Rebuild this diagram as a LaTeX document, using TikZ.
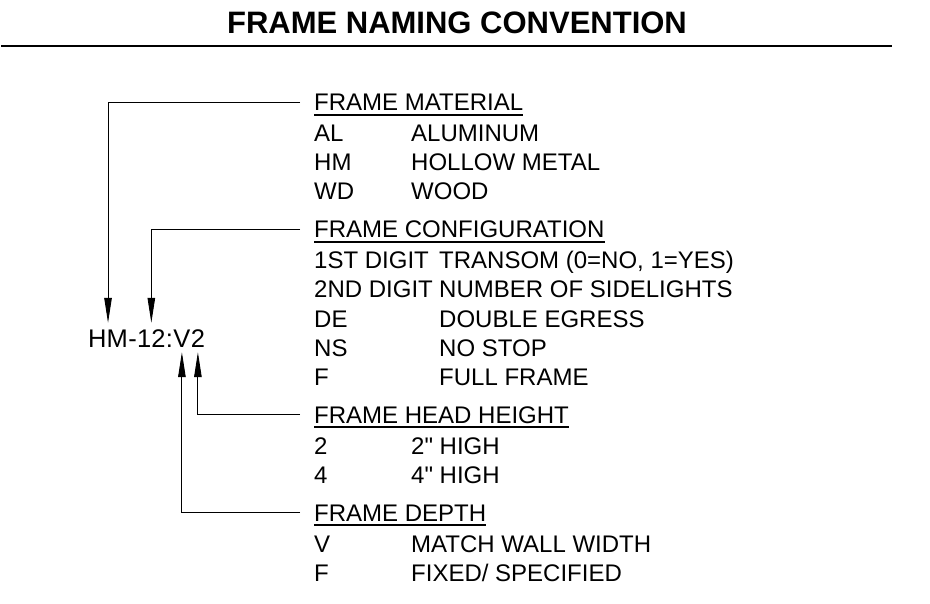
\documentclass[tikz,border=0pt]{standalone}
\usepackage{fontspec}
\setmainfont{Liberation Sans}[Ligatures=TeXOff]
\usetikzlibrary{arrows.meta,positioning}

\begin{document}
\begin{tikzpicture}[
  x=1pt,
  y=-1pt,
  font=\fontsize{24}{29}\selectfont,
  >={Triangle[length=25pt,width=7.5pt]},
  txt/.style={anchor=base west, inner sep=0pt, text height=17pt, text depth=0pt},
  hdr/.style={txt},
  part/.style={inner sep=0pt, text height=18pt, text depth=0pt, font=\fontsize{25.5}{29}\selectfont},
  leader/.style={->, line width=0.9pt},
  uline/.style={line width=2.5pt},
  titlerule/.style={line width=2.5pt}
]
  \useasboundingbox (0,0) rectangle (930,604);

  % title
  \node[anchor=base, inner sep=0pt, font=\fontsize{31}{36}\selectfont\bfseries] (title) at (457,34) {FRAME NAMING CONVENTION};
  \coordinate (ruleL) at (1,46);
  \coordinate (ruleR) at (892,46);
  \draw[titlerule] (ruleL) -- (ruleR);

  % frame code, one node per part
  \node[part, anchor=base west] (hm) at (88,348) {HM};
  \node[part, right=0pt of hm] (dash) {-};
  \node[part, right=0pt of dash] (num) {12};
  \node[part, right=0pt of num] (colon) {:};
  \node[part, right=0pt of colon] (depth) {V};
  \node[part, right=0pt of depth] (head) {2};

  % frame material
  \node[hdr] (mat) at (314,111) {FRAME MATERIAL};
  \foreach \abbr/\mean [count=\i] in {AL/ALUMINUM, HM/HOLLOW METAL, WD/WOOD} {
    \node[txt] (mat-a\i) at (314,{142+29*(\i-1)}) {\abbr};
    \node[txt] (mat-b\i) at (411,{142+29*(\i-1)}) {\mean};
  }

  % frame configuration
  \node[hdr] (cfg) at (314,238) {FRAME CONFIGURATION};
  \foreach \abbr/\mean [count=\i] in {1ST DIGIT/{TRANSOM (0=NO, 1=YES)}, 2ND DIGIT/NUMBER OF SIDELIGHTS, DE/DOUBLE EGRESS, NS/NO STOP, F/FULL FRAME} {
    \node[txt] (cfg-a\i) at (314,{269+29*(\i-1)}) {\abbr};
    \node[txt] (cfg-b\i) at (439,{269+29*(\i-1)}) {\mean};
  }

  % frame head height
  \node[hdr] (hd) at (314,423) {FRAME HEAD HEIGHT};
  \foreach \abbr/\mean [count=\i] in {2/2" HIGH, 4/4" HIGH} {
    \node[txt] (hd-a\i) at (314,{454+29*(\i-1)}) {\abbr};
    \node[txt] (hd-b\i) at (411,{454+29*(\i-1)}) {\mean};
  }

  % frame depth
  \node[hdr] (dp) at (314,521) {FRAME DEPTH};
  \foreach \abbr/\mean [count=\i] in {V/MATCH WALL WIDTH, F/{FIXED/ SPECIFIED}} {
    \node[txt] (dp-a\i) at (314,{552+29*(\i-1)}) {\abbr};
    \node[txt] (dp-b\i) at (411,{552+29*(\i-1)}) {\mean};
  }

  \foreach \h in {mat,cfg,hd,dp}
    \draw[uline] ([yshift=-4pt]\h.south west) -- ([yshift=-4pt]\h.south east);

  % leaders
  \draw[leader, shorten >=7pt] ([xshift=-14pt]mat.west) -| (hm.north);
  \draw[leader, shorten >=7pt] ([xshift=-14pt]cfg.west) -| (num.north);
  \draw[leader, shorten >=4pt] ([xshift=-14pt]hd.west) -| (head.south);
  \draw[leader, shorten >=4pt] ([xshift=-14pt]dp.west) -| (depth.south);
\end{tikzpicture}
\end{document}
